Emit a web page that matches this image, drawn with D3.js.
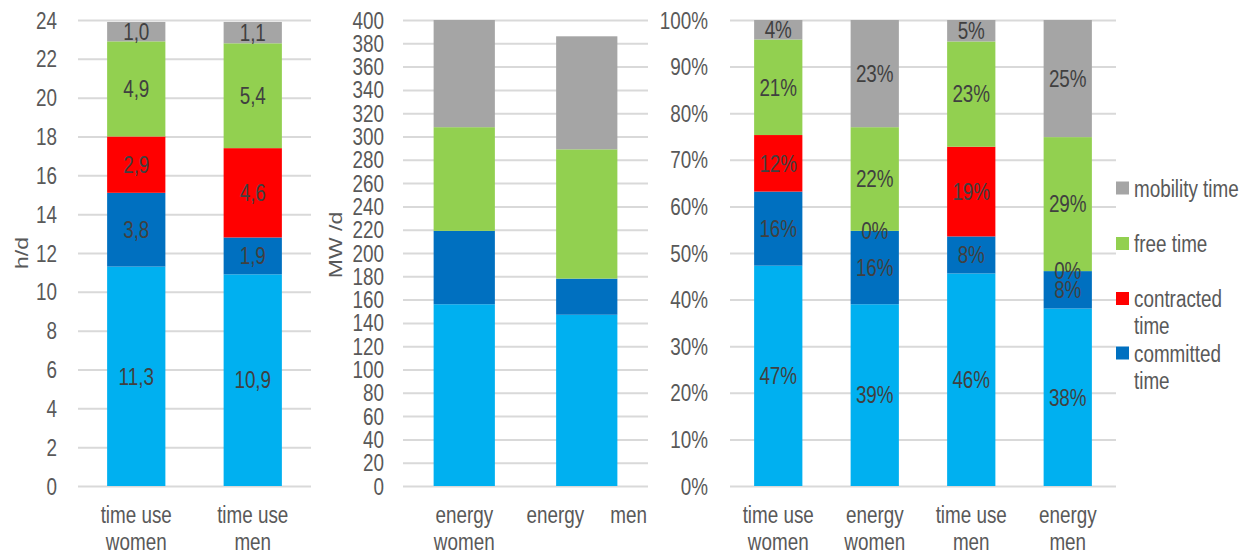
<!DOCTYPE html>
<html>
<head>
<meta charset="utf-8">
<script src="https://cdn.jsdelivr.net/npm/d3@7"></script>
<style>
  body { margin: 0; background: #fff; }
  svg { display: block; }
  text { font-family: "Liberation Sans", Arial, sans-serif; }
</style>
</head>
<body>
<svg id="chart" width="1247" height="553"></svg>
<script>
// Activity groups, stacked bottom to top
const seriesKeys = ["personal", "committed", "contracted", "free", "mobility"];
const seriesColors = ["#00B0F0", "#0070C0", "#FF0000", "#92D050", "#A5A5A5"];

// Time use, hours per day
const timeCategories = ["time use women", "time use men"];
const timeWomen = [11.3, 3.8, 2.9, 4.9, 1.0];
const timeMen = [10.9, 1.9, 4.6, 5.4, 1.1];

// Energy use, MW per day
const energyCategories = ["energy women", "energy men"];
const energyWomen = [156, 63, 0, 89, 92];
const energyMen = [147, 31, 0, 111, 97];

// Shares of each total
const shareCategories = ["time use women", "energy women", "time use men", "energy men"];

// Axis ticks
const timeTicks = [0, 2, 4, 6, 8, 10, 12, 14, 16, 18, 20, 22, 24];
const energyTicks = [0, 20, 40, 60, 80, 100, 120, 140, 160, 180, 200, 220, 240, 260, 280, 300, 320, 340, 360, 380, 400];
const shareTicks = [0, 0.1, 0.2, 0.3, 0.4, 0.5, 0.6, 0.7, 0.8, 0.9, 1.0];

// Category labels, one entry per line
const timeLabelLines = [["time use", "women"], ["time use", "men"]];
const energyLabelLines = [["energy", "women"], ["energy\u00a0\u00a0\u00a0\u00a0\u00a0men"]];
const shareLabelLines = [["time use", "women"], ["energy", "women"], ["time use", "men"], ["energy", "men"]];

// Legend
const legendKeys = ["mobility", "free", "contracted", "committed"];
const legendLines = [["mobility time"], ["free time"], ["contracted", "time"], ["committed", "time"]];

const svg = d3.select("#chart");
svg.append("rect").attr("width", 1247).attr("height", 553).attr("fill", "#fff");

const color = d3.scaleOrdinal().domain(seriesKeys).range(seriesColors);
const FONT = 23, SQUEEZE = 0.82;
const TOP = 20, BOTTOM = 486;
const commaFmt = d3.formatLocale({ decimal: ",", thousands: ".", grouping: [3], currency: ["", ""] }).format(".1f");

function toRow(cat, vals) {
  const r = { cat };
  seriesKeys.forEach((k, i) => r[k] = vals[i]);
  return r;
}

function place(sel, x, y) {
  return sel.attr("transform", `translate(${x},${y}) scale(${SQUEEZE},1)`);
}

function drawPanel(o) {
  const g = svg.append("g");
  const x = d3.scaleBand().domain(o.rows.map(r => r.cat)).range([o.x0, o.x1])
    .paddingInner(0.5).paddingOuter(0.25);
  const y = d3.scaleLinear().domain(o.domain).range([BOTTOM, TOP]);

  // gridlines and tick labels
  const axis = d3.axisLeft(y).tickValues(o.ticks).tickFormat(o.tickFormat)
    .tickSizeInner(-(o.x1 - o.x0)).tickSizeOuter(0);
  const ax = g.append("g").attr("transform", `translate(${o.x0},0)`).call(axis);
  ax.select(".domain").remove();
  ax.selectAll(".tick line").attr("stroke", "#d9d9d9").attr("stroke-width", 2);
  ax.selectAll(".tick text")
    .attr("fill", "#595959").attr("font-size", FONT)
    .attr("x", 0).attr("dy", "0.35em").attr("text-anchor", "end")
    .attr("transform", `translate(${-o.labelGap},0) scale(${SQUEEZE},1)`);

  // stacked bars
  const stacked = d3.stack().keys(seriesKeys).offset(o.offset)(o.rows);
  const layers = g.selectAll("g.layer").data(stacked).join("g")
    .attr("class", "layer").attr("fill", d => color(d.key));
  layers.selectAll("rect").data(d => d).join("rect")
    .attr("x", d => x(d.data.cat))
    .attr("width", x.bandwidth())
    .attr("y", d => y(d[1]))
    .attr("height", d => y(d[0]) - y(d[1]));

  // value labels
  if (o.valueText) {
    stacked.forEach(layer => {
      layer.forEach(d => {
        if (!o.showLabel(layer.key, d)) return;
        const t = g.append("text")
          .attr("text-anchor", "middle").attr("dy", "0.36em")
          .attr("font-size", FONT).attr("fill", "#404040")
          .text(o.valueText(layer.key, d));
        place(t, x(d.data.cat) + x.bandwidth() / 2, y((d[0] + d[1]) / 2));
      });
    });
  }

  // category labels
  o.rows.forEach((r, i) => {
    o.labelLines[i].forEach((line, j) => {
      const t = g.append("text").attr("text-anchor", "middle")
        .attr("font-size", FONT).attr("fill", "#595959")
        .style("white-space", "pre").text(line);
      place(t, x(r.cat) + x.bandwidth() / 2, 523 + j * 27);
    });
  });

  // axis title
  if (o.title) {
    g.append("text").attr("text-anchor", "middle").attr("dy", "0.36em")
      .attr("font-size", FONT).attr("fill", "#595959")
      .attr("transform", `translate(${o.titleX},${o.titleY}) rotate(-90) scale(1,${SQUEEZE})`)
      .text(o.title);
  }
}

// Panel 1: hours per day
drawPanel({
  x0: 78, x1: 311, domain: [0, 24], ticks: timeTicks, tickFormat: d3.format("d"),
  labelGap: 21, offset: d3.stackOffsetNone,
  rows: [toRow(timeCategories[0], timeWomen), toRow(timeCategories[1], timeMen)],
  labelLines: timeLabelLines,
  showLabel: () => true,
  valueText: (k, d) => commaFmt(d.data[k]),
  title: "h/d", titleX: 21, titleY: 253
});

// Panel 2: energy per day
drawPanel({
  x0: 403, x1: 648, domain: [0, 400], ticks: energyTicks, tickFormat: d3.format("d"),
  labelGap: 19, offset: d3.stackOffsetNone,
  rows: [toRow(energyCategories[0], energyWomen), toRow(energyCategories[1], energyMen)],
  labelLines: energyLabelLines,
  valueText: null,
  title: "MW /d", titleX: 335, titleY: 245
});

// Panel 3: shares of totals
const shareRows = [
  toRow(shareCategories[0], timeWomen),
  toRow(shareCategories[1], energyWomen),
  toRow(shareCategories[2], timeMen),
  toRow(shareCategories[3], energyMen)
];
drawPanel({
  x0: 730, x1: 1116, domain: [0, 1], ticks: shareTicks, tickFormat: d3.format(".0%"),
  labelGap: 22, offset: d3.stackOffsetExpand,
  rows: shareRows,
  labelLines: shareLabelLines,
  showLabel: () => true,
  valueText: (k, d) => Math.round((d[1] - d[0]) * 100) + "%",
  title: null
});

// Legend
const lg = svg.append("g");
const legendY = [188, 243.5, 298.5, 353];
legendKeys.forEach((k, i) => {
  lg.append("rect").attr("x", 1116).attr("y", legendY[i] - 6.5)
    .attr("width", 13).attr("height", 13).attr("fill", color(k));
  legendLines[i].forEach((line, j) => {
    const t = lg.append("text").attr("font-size", FONT).attr("fill", "#595959").text(line);
    place(t, 1134, legendY[i] + 8.5 + j * 27);
  });
});
</script>
</body>
</html>
